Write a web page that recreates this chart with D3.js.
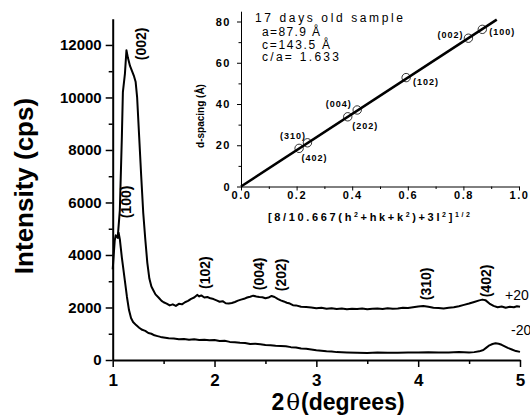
<!DOCTYPE html>
<html>
<head>
<script src="https://d3js.org/d3.v7.min.js"></script>
<style>
  body { margin: 0; background: #fff; }
  svg { display: block; font-family: "Liberation Sans", Arial, sans-serif; }
  .axis path, .axis line { stroke: #000; }
  .axis text { fill: #000; font-weight: bold; }
  .peak { font-weight: bold; font-size: 14px; }
  .ins-lab { font-weight: bold; font-size: 9px; letter-spacing: 1px; }
</style>
</head>
<body>
<svg id="chart" width="530" height="417"></svg>
<script>
// ---- data: main XRD patterns (2theta in degrees, intensity in cps)
const upperTheta = [1.05, 1.07, 1.09, 1.10, 1.12, 1.135, 1.15, 1.17, 1.19, 1.21, 1.225, 1.24, 1.26, 1.28, 1.30, 1.32, 1.34, 1.36, 1.38, 1.40, 1.42, 1.45, 1.48, 1.50, 1.53, 1.56, 1.59, 1.62, 1.65, 1.68, 1.71, 1.74, 1.77, 1.80, 1.83, 1.85, 1.87, 1.90, 1.93, 1.96, 1.99, 2.02, 2.05, 2.08, 2.11, 2.14, 2.17, 2.20, 2.23, 2.26, 2.29, 2.32, 2.35, 2.38, 2.41, 2.44, 2.47, 2.50, 2.53, 2.56, 2.59, 2.62, 2.65, 2.68, 2.71, 2.74, 2.77, 2.80, 2.85, 2.90, 2.95, 3.00, 3.05, 3.10, 3.15, 3.20, 3.25, 3.30, 3.35, 3.40, 3.45, 3.50, 3.55, 3.60, 3.65, 3.70, 3.75, 3.80, 3.85, 3.90, 3.95, 4.00, 4.05, 4.10, 4.15, 4.20, 4.25, 4.30, 4.35, 4.40, 4.45, 4.50, 4.55, 4.60, 4.63, 4.66, 4.70, 4.74, 4.78, 4.82, 4.86, 4.90, 4.94, 4.97, 5.00];
const upperCps = [4700, 5700, 8500, 10200, 10900, 11800, 11500, 11200, 11000, 10800, 10600, 10000, 8500, 7000, 5600, 4600, 3700, 3100, 2800, 2650, 2500, 2380, 2250, 2200, 2150, 2080, 2120, 2060, 2140, 2120, 2200, 2250, 2330, 2380, 2480, 2420, 2460, 2380, 2400, 2350, 2320, 2270, 2220, 2240, 2160, 2150, 2170, 2210, 2260, 2300, 2330, 2380, 2410, 2450, 2420, 2400, 2390, 2350, 2380, 2440, 2400, 2330, 2270, 2230, 2180, 2150, 2090, 2080, 2030, 2020, 2000, 1970, 1990, 1950, 1970, 1940, 1960, 1930, 1950, 1940, 1960, 1930, 1950, 1960, 1940, 1970, 1950, 1960, 1990, 1980, 2010, 2040, 2060, 2030, 1990, 1980, 1960, 1990, 2010, 2050, 2100, 2150, 2210, 2270, 2300, 2280, 2150, 2060, 2010, 2040, 1990, 2030, 2010, 2050, 2030];

const lowerTheta = [1.00, 1.01, 1.02, 1.03, 1.04, 1.05, 1.058, 1.07, 1.08, 1.09, 1.10, 1.12, 1.14, 1.16, 1.18, 1.20, 1.23, 1.26, 1.29, 1.32, 1.35, 1.38, 1.41, 1.44, 1.47, 1.50, 1.55, 1.60, 1.65, 1.70, 1.75, 1.80, 1.85, 1.90, 1.95, 2.00, 2.05, 2.10, 2.15, 2.20, 2.25, 2.30, 2.35, 2.40, 2.45, 2.50, 2.55, 2.60, 2.65, 2.70, 2.75, 2.80, 2.85, 2.90, 2.95, 3.00, 3.05, 3.10, 3.15, 3.20, 3.30, 3.40, 3.50, 3.60, 3.70, 3.80, 3.90, 4.00, 4.10, 4.20, 4.30, 4.40, 4.50, 4.55, 4.60, 4.64, 4.67, 4.70, 4.73, 4.76, 4.79, 4.82, 4.85, 4.88, 4.92, 4.96, 5.00];
const lowerCps = [3450, 4000, 4550, 4750, 4700, 4650, 4850, 4600, 4250, 3900, 3600, 3000, 2400, 1900, 1600, 1450, 1330, 1230, 1150, 1110, 1030, 1000, 940, 910, 880, 860, 830, 820, 790, 800, 770, 790, 760, 770, 750, 760, 720, 730, 690, 680, 660, 650, 610, 620, 600, 570, 560, 540, 530, 520, 490, 480, 440, 430, 400, 370, 350, 330, 320, 300, 290, 280, 270, 285, 275, 280, 290, 285, 295, 290, 285, 300, 290, 300, 330, 380, 470, 560, 610, 640, 620, 580, 520, 460, 400, 340, 310];

const seriesNames = ["+20", "-20"];

// peak labels: name, 2theta at label baseline, intensity at label centre
const peakNames = ["(002)", "(100)", "(102)", "(004)", "(202)", "(310)", "(402)"];
const peakTheta = [1.327, 1.18, 1.956, 2.481, 2.702, 4.127, 4.716];
const peakCps = [12040, 6020, 3330, 3280, 3240, 2900, 3010];

const xTicks = [1, 2, 3, 4, 5];
const yTicks = [0, 2000, 4000, 6000, 8000, 10000, 12000];

// ---- data: inset d-spacing fit
const insX = [0.209, 0.239, 0.384, 0.418, 0.594, 0.818, 0.868];
const insD = [18.5, 21.2, 33.8, 37.1, 52.8, 71.9, 76.2];
const insNames = ["(310)", "(402)", "(004)", "(202)", "(102)", "(002)", "(100)"];
const fitX = [0, 0.92];
const fitD = [0, 80.9];
const insXTicks = [0, 0.2, 0.4, 0.6, 0.8, 1.0];
const insYTicks = [0, 20, 40, 60, 80];
const insText = ["a=87.9 \u00C5", "c=143.5 \u00C5", "c/a= 1.633"];

const svg = d3.select('#chart');

// ================= main chart =================
const x = d3.scaleLinear().domain([1, 5]).range([112.7, 520]);
const y = d3.scaleLinear().domain([0, 13000]).range([360, 18.7]);

// minor ticks first
svg.append('g').attr('class', 'axis').attr('transform', 'translate(0,360)')
  .call(d3.axisBottom(x).tickValues([1.5, 2.5, 3.5, 4.5]).tickSize(4).tickFormat(''))
  .call(g => g.select('.domain').remove())
  .selectAll('line').attr('stroke-width', 1.5);
svg.append('g').attr('class', 'axis').attr('transform', 'translate(112.7,0)')
  .call(d3.axisLeft(y).tickValues([1000, 3000, 5000, 7000, 9000, 11000]).tickSize(4).tickFormat(''))
  .call(g => g.select('.domain').remove())
  .selectAll('line').attr('stroke-width', 1.5);

const xAxis = svg.append('g').attr('class', 'axis').attr('transform', 'translate(0,360)')
  .call(d3.axisBottom(x).tickValues(xTicks).tickSize(7).tickSizeOuter(0).tickPadding(7).tickFormat(d3.format('d')));
xAxis.select('.domain').attr('stroke-width', 2);
xAxis.selectAll('line').attr('stroke-width', 1.5);
xAxis.selectAll('text').attr('font-size', 17);

const yAxis = svg.append('g').attr('class', 'axis').attr('transform', 'translate(112.7,0)')
  .call(d3.axisLeft(y).tickValues(yTicks).tickSize(7).tickSizeOuter(0).tickPadding(4).tickFormat(d3.format('d')));
yAxis.select('.domain').attr('stroke-width', 2);
yAxis.selectAll('line').attr('stroke-width', 1.5);
yAxis.selectAll('text').attr('font-size', 15);

const line = d3.line().x(d => x(d[0])).y(d => y(d[1]));
const upper = upperTheta.map((t, i) => [t, upperCps[i]]);
const lower = lowerTheta.map((t, i) => [t, lowerCps[i]]);
[upper, lower].forEach(s => {
  svg.append('path').datum(s).attr('d', line)
    .attr('fill', 'none').attr('stroke', '#000').attr('stroke-width', 2)
    .attr('stroke-linejoin', 'round');
});

// series tags at the right end
svg.append('text').attr('x', 505).attr('y', 300).attr('font-size', 14).text(seriesNames[0]);
svg.append('text').attr('x', 511).attr('y', 335).attr('font-size', 14).text(seriesNames[1]);

// peak labels (rotated)
peakNames.forEach((n, i) => {
  const px = x(peakTheta[i]), py = y(peakCps[i]);
  svg.append('text').attr('class', 'peak')
    .attr('transform', `translate(${px},${py}) rotate(-90)`)
    .attr('text-anchor', 'middle').text(n);
});

// axis titles
svg.append('text')
  .attr('transform', 'translate(33,186) rotate(-90)')
  .attr('text-anchor', 'middle').attr('font-weight', 'bold').attr('font-size', 26)
  .text('Intensity (cps)');
const xt = svg.append('text').attr('x', 338).attr('y', 410)
  .attr('text-anchor', 'middle').attr('font-weight', 'bold').attr('font-size', 23);
xt.append('tspan').text('2');
xt.append('tspan').attr('font-family', '"DejaVu Serif", serif').attr('font-weight', 'normal').attr('dx', 2).text('\u03B8');
xt.append('tspan').attr('dx', 1).text('(degrees)');

// ================= inset =================
const ix = d3.scaleLinear().domain([0, 1]).range([241, 519]);
const iy = d3.scaleLinear().domain([0, 85]).range([186.5, 11.2]);

svg.append('g').attr('class', 'axis').attr('transform', 'translate(0,186.5)')
  .call(d3.axisBottom(ix).tickValues([0.1, 0.3, 0.5, 0.7, 0.9]).tickSize(2.5).tickFormat(''))
  .call(g => g.select('.domain').remove());
svg.append('g').attr('class', 'axis').attr('transform', 'translate(241,0)')
  .call(d3.axisLeft(iy).tickValues([10, 30, 50, 70]).tickSize(2.5).tickFormat(''))
  .call(g => g.select('.domain').remove());

const ixAxis = svg.append('g').attr('class', 'axis').attr('transform', 'translate(0,186.5)')
  .call(d3.axisBottom(ix).tickValues(insXTicks).tickSize(4).tickSizeOuter(0).tickPadding(1).tickFormat(d3.format('.1f')));
ixAxis.selectAll('text').attr('font-size', 11).attr('letter-spacing', 1.5);
const iyAxis = svg.append('g').attr('class', 'axis').attr('transform', 'translate(241,0)')
  .call(d3.axisLeft(iy).tickValues(insYTicks).tickSize(4).tickSizeOuter(0).tickPadding(6).tickFormat(d3.format('d')));
iyAxis.selectAll('text').attr('font-size', 11).attr('letter-spacing', 1.5);

svg.append('path').datum(fitX.map((v, i) => [v, fitD[i]]))
  .attr('d', d3.line().x(d => ix(d[0])).y(d => iy(d[1])))
  .attr('stroke', '#000').attr('stroke-width', 2.5).attr('fill', 'none');

svg.selectAll('circle.pt').data(insX).join('circle').attr('class', 'pt')
  .attr('cx', d => ix(d)).attr('cy', (d, i) => iy(insD[i])).attr('r', 4.2)
  .attr('fill', 'none').attr('stroke', '#000').attr('stroke-width', 0.8);

// label offsets from each circle (px), layout only
const insLabelDx = [-6, 7, -9, 8, 20, -18, 20];
const insLabelDy = [-9, 18, -10, 19, 7, 0, 6];
insNames.forEach((n, i) => {
  svg.append('text').attr('class', 'ins-lab')
    .attr('x', ix(insX[i]) + insLabelDx[i]).attr('y', iy(insD[i]) + insLabelDy[i])
    .attr('text-anchor', 'middle').text(n);
});

svg.append('text').attr('x', 255).attr('y', 21.5).attr('font-size', 12)
  .attr('textLength', 148).attr('lengthAdjust', 'spacing').text('17 days old sample');
const insLens = [58, 68, 77];
insText.forEach((t, i) => {
  svg.append('text').attr('x', 262).attr('y', 36 + i * 12.5).attr('font-size', 12)
    .attr('textLength', insLens[i]).attr('lengthAdjust', 'spacing').text(t);
});

svg.append('text')
  .attr('transform', 'translate(204,116) rotate(-90)')
  .attr('text-anchor', 'middle').attr('font-weight', 'bold').attr('font-size', 10)
  .text('d-spacing (\u00C5)');

const ixt = svg.append('text').attr('x', 268).attr('y', 221)
  .attr('font-weight', 'bold').attr('font-size', 11)
  .attr('textLength', 202).attr('lengthAdjust', 'spacing');
ixt.append('tspan').text('[8/10.667(h');
ixt.append('tspan').attr('font-size', 7).attr('dy', -4).text('2');
ixt.append('tspan').attr('dy', 4).text('+hk+k');
ixt.append('tspan').attr('font-size', 7).attr('dy', -4).text('2');
ixt.append('tspan').attr('dy', 4).text(')+3l');
ixt.append('tspan').attr('font-size', 7).attr('dy', -4).text('2');
ixt.append('tspan').attr('dy', 4).text(']');
ixt.append('tspan').attr('font-size', 7).attr('dy', -4).text('1/2');
</script>
</body>
</html>
